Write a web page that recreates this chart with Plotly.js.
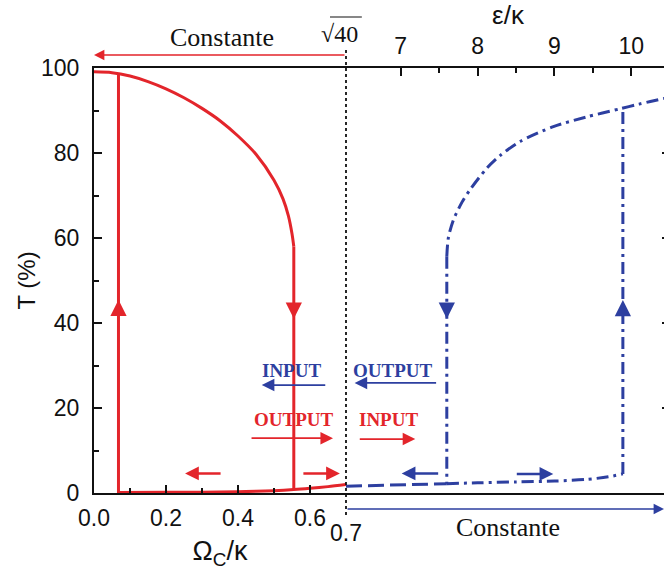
<!DOCTYPE html>
<html>
<head>
<meta charset="utf-8">
<script src="https://cdn.plot.ly/plotly-3.0.1.min.js"></script>
<style>
html,body{margin:0;padding:0;overflow:hidden;background:#fff;}
#chart{width:670px;height:583px;}
</style>
</head>
<body>
<div id="chart"></div>
<script>
// ---- Data ----
// Red branch, horizontal axis Omega_C / kappa
const omegaUpper = [0, 0.05, 0.1, 0.15, 0.2, 0.25, 0.3, 0.35, 0.4, 0.45, 0.5, 0.525, 0.54, 0.55, 0.555];
const tUpper     = [99.1, 98.9, 98.1, 96.8, 95.1, 93.0, 90.5, 87.6, 84.0, 79.7, 73.6, 69.2, 65.2, 61.0, 58.0];
const omegaLower = [0.068, 0.2, 0.3, 0.4, 0.45, 0.5, 0.555, 0.6, 0.65, 0.7];
const tLower     = [0.1, 0.15, 0.2, 0.3, 0.4, 0.55, 0.8, 1.1, 1.5, 2.0];
const omegaJumpUp = [0.068, 0.068];
const tJumpUp     = [0, 98.8];
const omegaJumpDown = [0.555, 0.555];
const tJumpDown     = [58.0, 0.8];

// Blue branch, horizontal axis epsilon / kappa
const epsLowA = [6.289, 7.0, 7.6];
const tLowA   = [1.6, 1.9, 2.2];
const epsLowB = [7.6, 8.0, 8.5, 9.0, 9.42, 9.7, 9.89];
const tLowB   = [2.2, 2.4, 2.6, 2.8, 3.2, 3.8, 4.5];
const epsUpper = [7.60, 7.62, 7.685, 7.8, 7.9, 8.12, 8.3, 8.553, 8.986, 9.42, 9.853, 10.1, 10.416, 10.503];
const tUpperB  = [55.6, 60.0, 64.2, 68.5, 71.3, 76.4, 79.5, 82.7, 86.2, 88.5, 90.4, 91.5, 92.8, 93.1];
const epsJumpDown = [7.6, 7.6];
const tJumpDownB  = [55.6, 2.2];
const epsJumpUp = [9.89, 9.89];
const tJumpUpB  = [4.5, 90.6];

// Axis ticks
const yTicks = [0, 20, 40, 60, 80, 100];
const yMinor = [10, 30, 50, 70, 90];
const omegaTicks = [0, 0.2, 0.4, 0.6];
const omegaMinor = [0.1, 0.3, 0.5];
const epsTicks = [7, 8, 9, 10];
const epsMinor = [7.5, 8.5, 9.5, 10.5];

const red = '#E3252B';
const blue = '#2D3FA0';
const sans = 'Liberation Sans, Arial, sans-serif';
const serif = 'Liberation Serif, Times New Roman, serif';
const dashdot = '12px,5px,3px,5px';

const traces = [
  {x: omegaUpper, y: tUpper, xaxis: 'x', yaxis: 'y', mode: 'lines', line: {color: red, width: 3, shape: 'spline', smoothing: 0.8}},
  {x: omegaLower, y: tLower, xaxis: 'x', yaxis: 'y', mode: 'lines', line: {color: red, width: 3, shape: 'spline', smoothing: 0.8}},
  {x: omegaJumpUp, y: tJumpUp, xaxis: 'x', yaxis: 'y', mode: 'lines', line: {color: red, width: 3}},
  {x: omegaJumpDown, y: tJumpDown, xaxis: 'x', yaxis: 'y', mode: 'lines', line: {color: red, width: 3}},
  {x: epsLowA, y: tLowA, xaxis: 'x2', yaxis: 'y2', mode: 'lines', line: {color: blue, width: 3, dash: '16px,6px'}},
  {x: epsLowB, y: tLowB, xaxis: 'x2', yaxis: 'y2', mode: 'lines', line: {color: blue, width: 3, dash: dashdot, shape: 'spline', smoothing: 0.8}},
  {x: epsUpper, y: tUpperB, xaxis: 'x2', yaxis: 'y2', mode: 'lines', line: {color: blue, width: 3, dash: dashdot, shape: 'spline', smoothing: 0.8}},
  {x: epsJumpDown, y: tJumpDownB, xaxis: 'x2', yaxis: 'y2', mode: 'lines', line: {color: blue, width: 3, dash: dashdot}},
  {x: epsJumpUp, y: tJumpUpB, xaxis: 'x2', yaxis: 'y2', mode: 'lines', line: {color: blue, width: 3, dash: dashdot}}
];

function arrow(x, y, ax, ay, color, xref, yref, opts) {
  return Object.assign({
    x: x, y: y, ax: ax, ay: ay, xref: xref, yref: yref, axref: 'pixel', ayref: 'pixel',
    text: '', showarrow: true, arrowhead: 2, arrowsize: 1.4, arrowwidth: 1.8, arrowcolor: color
  }, opts || {});
}
function label(x, y, text, color, xref, yref, font) {
  return {x: x, y: y, xref: xref, yref: yref, text: text, showarrow: false,
    font: Object.assign({color: color}, font), xanchor: 'center', yanchor: 'middle'};
}

const annotations = [
  // arrowheads on the jumps
  arrow(0.068, 45.5, 0, 16, red, 'x', 'y', {arrowsize: 1.3, arrowwidth: 2.5}),
  arrow(0.555, 41, 0, -16, red, 'x', 'y', {arrowsize: 1.3, arrowwidth: 2.5}),
  arrow(7.6, 41, 0, -16, blue, 'x2', 'y2', {arrowsize: 1.3, arrowwidth: 2.5}),
  arrow(9.89, 45.4, 0, 16, blue, 'x2', 'y2', {arrowsize: 1.3, arrowwidth: 2.5}),
  // small direction arrows near the bottom
  arrow(0.253, 4.6, 37, 0, red, 'x', 'y', {arrowwidth: 2.5, arrowsize: 1.1}),
  arrow(0.683, 4.6, -38, 0, red, 'x', 'y', {arrowwidth: 2.5, arrowsize: 1.1}),
  arrow(7.013, 4.6, 38, 0, blue, 'x2', 'y2', {arrowwidth: 2.5, arrowsize: 1.1}),
  arrow(8.985, 4.5, -38, 0, blue, 'x2', 'y2', {arrowwidth: 2.5, arrowsize: 1.1}),
  // INPUT / OUTPUT labels and arrows
  label(0.549, 28.9, '<b>INPUT</b>', blue, 'x', 'y', {family: serif, size: 19}),
  arrow(0.466, 25.4, 65, 0, blue, 'x', 'y'),
  label(6.900, 28.9, '<b>OUTPUT</b>', blue, 'x2', 'y2', {family: serif, size: 19}),
  arrow(6.401, 25.9, 83, 0, blue, 'x2', 'y2'),
  label(0.556, 17.2, '<b>OUTPUT</b>', red, 'x', 'y', {family: serif, size: 19}),
  arrow(0.664, 12.9, -83, 0, red, 'x', 'y'),
  label(6.844, 17.2, '<b>INPUT</b>', red, 'x2', 'y2', {family: serif, size: 19}),
  arrow(7.19, 12.7, -57, 0, red, 'x2', 'y2'),
  // "Constante" arrows
  arrow(0, 1.0306, 252, 0, red, 'paper', 'paper', {arrowwidth: 1.6, arrowsize: 1.3}),
  label(0.223, 1.0706, 'Constante', '#111', 'paper', 'paper', {family: serif, size: 26}),
  arrow(0.9896, -0.0376, -318, 0, blue, 'paper', 'paper', {arrowwidth: 1.6, arrowsize: 1.3}),
  label(0.7179, -0.082, 'Constante', '#111', 'paper', 'paper', {family: serif, size: 26}),
  // sqrt(40) and 0.7
  label(0.427, 1.080, '√40', '#111', 'paper', 'paper', {family: serif, size: 24}),
  label(0.4375, -0.094, '0.7', '#111', 'paper', 'paper', {family: sans, size: 23}),
  // y-axis title
  Object.assign(label(-0.118, 0.5, 'T (%)', '#111', 'paper', 'paper', {family: sans, size: 24}), {textangle: -90})
];

const shapes = [
  {type: 'line', xref: 'paper', yref: 'paper', x0: 0.4375, x1: 0.4375, y0: -0.052, y1: 1.049,
   line: {color: '#111', width: 1.8, dash: 'dot'}},
  {type: 'line', xref: 'paper', yref: 'paper', x0: 0.4097, x1: 0.4650, y0: 1.120, y1: 1.120,
   line: {color: '#111', width: 1.2}}
];

const axisBase = {
  showline: true, linecolor: '#111', linewidth: 2, mirror: true,
  ticks: 'inside', ticklen: 8, tickwidth: 2, tickcolor: '#111',
  showgrid: false, zeroline: false, fixedrange: true,
  tickfont: {family: sans, size: 23, color: '#111'}
};
const minorBase = {tickmode: 'array', ticks: 'inside', ticklen: 5, tickwidth: 2, tickcolor: '#111'};

const layout = {
  width: 670, height: 583,
  margin: {l: 94, r: 0, t: 68, b: 90},
  paper_bgcolor: '#fff', plot_bgcolor: '#fff',
  showlegend: false,
  xaxis: Object.assign({}, axisBase, {
    domain: [0, 0.4375], range: [0, 0.7], anchor: 'y',
    tickmode: 'array', tickvals: omegaTicks, ticktext: omegaTicks.map(v => v.toFixed(1)),
    ticklabelstandoff: 3,
    minor: Object.assign({tickvals: omegaMinor}, minorBase),
    title: {text: 'Ω<sub>C</sub>/κ', font: {family: sans, size: 27, color: '#111'}, standoff: 12}
  }),
  xaxis2: Object.assign({}, axisBase, {
    domain: [0.4375, 1], range: [6.289, 10.503], anchor: 'y2', side: 'top',
    tickmode: 'array', tickvals: epsTicks, ticktext: epsTicks.map(String),
    ticklabelstandoff: 3,
    minor: Object.assign({tickvals: epsMinor}, minorBase),
    title: {text: 'ε/κ', font: {family: sans, size: 26, color: '#111'}, standoff: 6}
  }),
  yaxis: Object.assign({}, axisBase, {
    domain: [0, 1], range: [0, 100], anchor: 'x', mirror: false,
    tickmode: 'array', tickvals: yTicks, ticktext: yTicks.map(String),
    ticklabelstandoff: 8,
    minor: Object.assign({tickvals: yMinor}, minorBase)
  }),
  yaxis2: Object.assign({}, axisBase, {
    domain: [0, 1], range: [0, 100], anchor: 'x2', side: 'right', mirror: false,
    tickmode: 'array', tickvals: [20, 40, 60, 80], showticklabels: false,
    minor: Object.assign({tickvals: yMinor}, minorBase)
  }),
  annotations: annotations,
  shapes: shapes
};

Plotly.newPlot('chart', traces, layout, {displayModeBar: false, staticPlot: true});
</script>
</body>
</html>
